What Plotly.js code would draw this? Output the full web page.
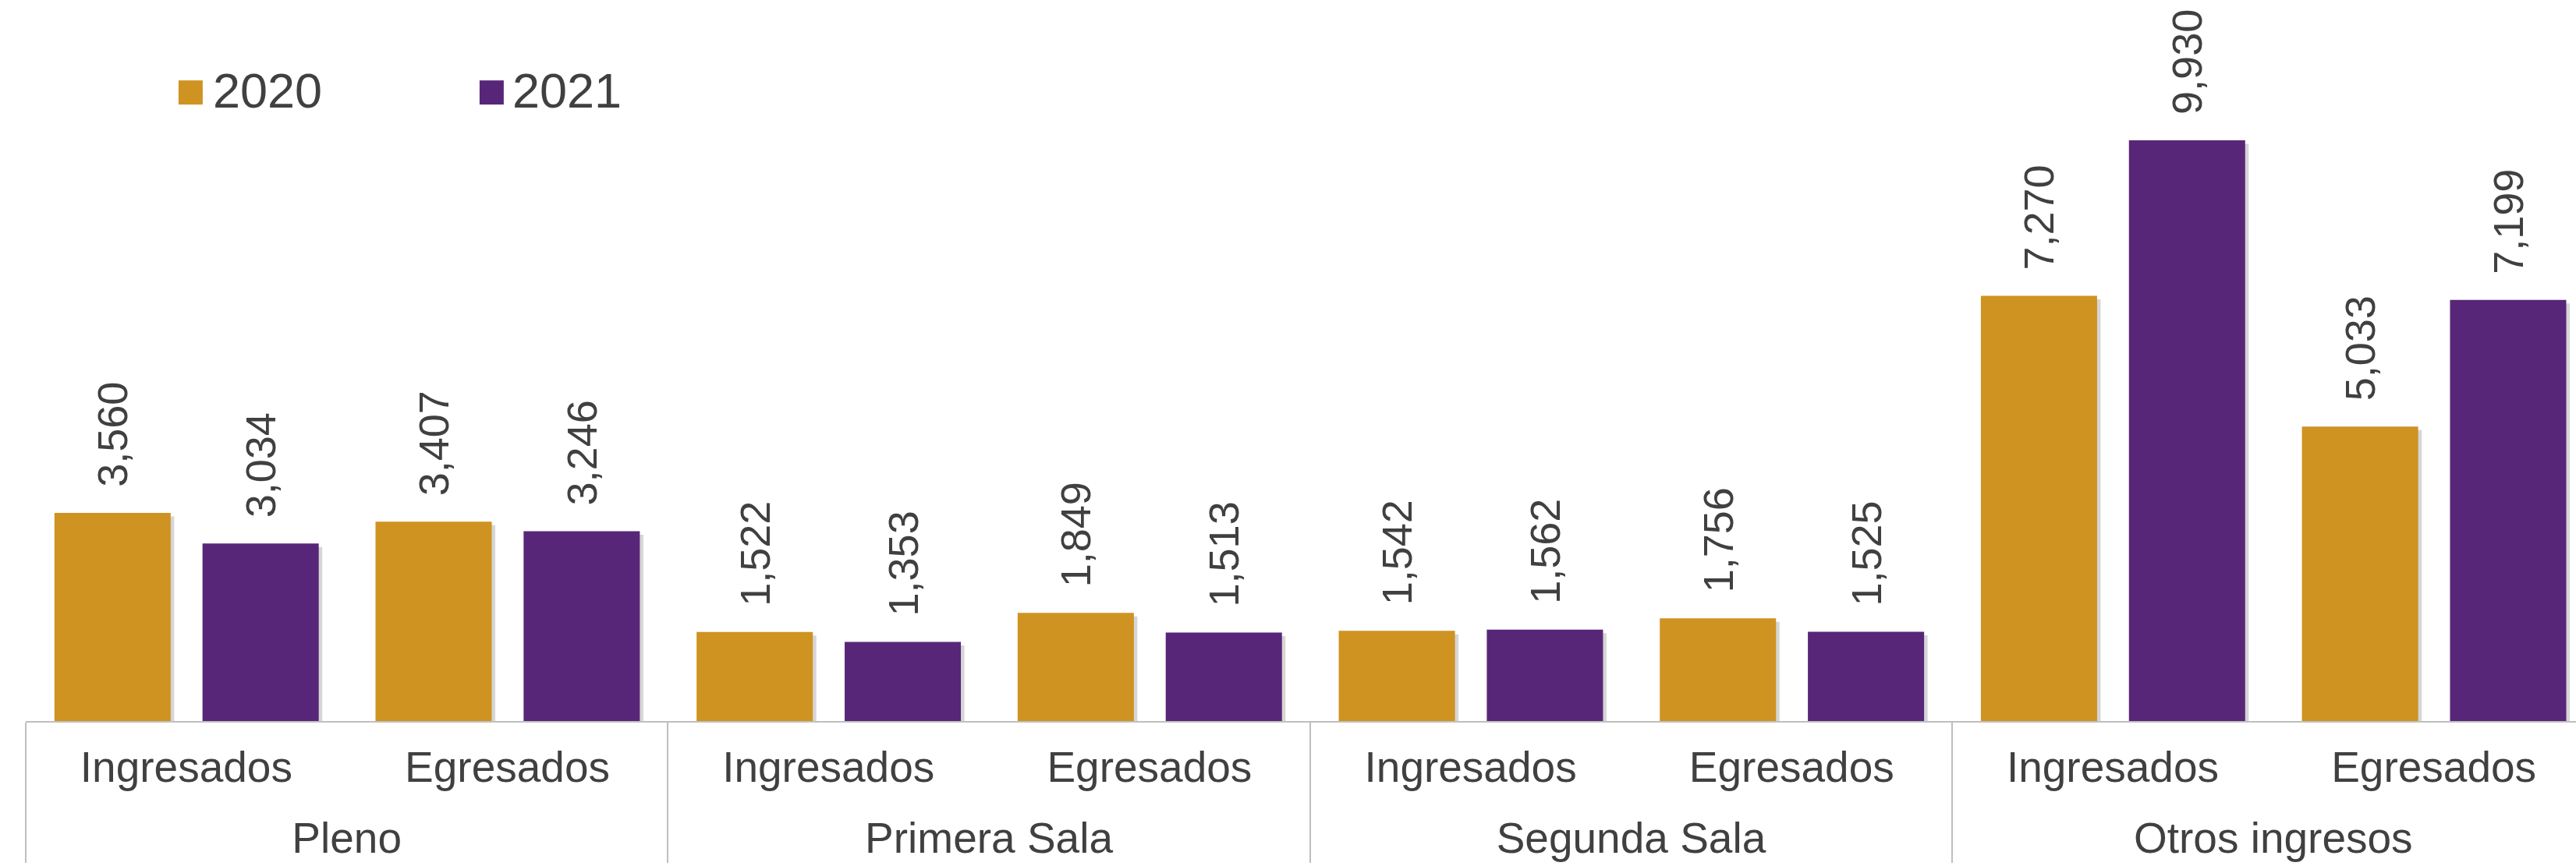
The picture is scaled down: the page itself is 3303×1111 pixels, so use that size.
<!DOCTYPE html>
<html>
<head>
<meta charset="utf-8">
<script src="https://cdn.plot.ly/plotly-3.0.1.min.js"></script>
<style>
  html, body { margin: 0; padding: 0; background: #ffffff; }
  #chart { width: 3303px; height: 1111px; }
</style>
</head>
<body>
<div id="chart"></div>
<script>
// ---- data ----
const groups = ["Pleno", "Pleno", "Primera Sala", "Primera Sala", "Segunda Sala", "Segunda Sala", "Otros ingresos", "Otros ingresos"];
const categories = ["Ingresados", "Egresados", "Ingresados", "Egresados", "Ingresados", "Egresados", "Ingresados", "Egresados"];
const values2020 = [3560, 3407, 1522, 1849, 1542, 1756, 7270, 5033];
const values2021 = [3034, 3246, 1353, 1513, 1562, 1525, 9930, 7199];
const seriesNames = ["2020", "2021"];
const seriesColors = ["#CF9321", "#582678"];

const FONT = "Liberation Sans, Arial, sans-serif";
const TEXT_COLOR = "#404040";

// layout of bars inside each category (in category units)
const BAR_W = 0.362;
const OFFSETS = [-0.4106, 0.0506];
const SHADOW_DX = 0.011;
const SHADOW_BASE = -60;

// first-level labels padded with invisible spaces (increase spacing to the second level)
const PAD = '<span style="font-size:88px">\u00a0</span>';
const catLabels = categories.map(c => PAD + c + PAD);

function shadowTrace(vals, off) {
  return {
    type: "bar",
    x: [groups, catLabels],
    y: vals,
    base: SHADOW_BASE,
    width: BAR_W,
    offset: off + SHADOW_DX,
    marker: { color: "rgba(0,0,0,0.16)", line: { width: 0 } },
    showlegend: false,
    hoverinfo: "skip"
  };
}

function barTrace(name, vals, color, off) {
  return {
    type: "bar",
    name: name,
    x: [groups, catLabels],
    y: vals,
    width: BAR_W,
    offset: off,
    marker: { color: color, line: { width: 0 } },
    texttemplate: "\u00a0\u00a0%{y:,}",
    textposition: "outside",
    textangle: -90,
    constraintext: "none",
    cliponaxis: false,
    textfont: { family: FONT, size: 54, color: TEXT_COLOR },
    showlegend: false,
    hoverinfo: "x+y"
  };
}

const data = [
  shadowTrace(values2020, OFFSETS[0]),
  shadowTrace(values2021, OFFSETS[1]),
  barTrace(seriesNames[0], values2020, seriesColors[0], OFFSETS[0]),
  barTrace(seriesNames[1], values2021, seriesColors[1], OFFSETS[1])
];

// legend (swatch + label)
const swatchX = [0.0582, 0.1762];
const labelX = [0.0728, 0.1902];
const LEG_Y = 0.875;
const annotations = [];
seriesNames.forEach((n, i) => {
  annotations.push({
    xref: "paper", yref: "paper", x: swatchX[i], y: LEG_Y,
    xanchor: "left", yanchor: "middle", showarrow: false,
    text: "■", font: { family: FONT, size: 64, color: seriesColors[i] }
  });
  annotations.push({
    xref: "paper", yref: "paper", x: labelX[i], y: LEG_Y,
    xanchor: "left", yanchor: "middle", showarrow: false,
    text: n, font: { family: FONT, size: 63, color: TEXT_COLOR }
  });
});

const layout = {
  width: 3303,
  height: 1111,
  margin: { l: 33, r: 0, t: 0, b: 186 },
  paper_bgcolor: "#ffffff",
  plot_bgcolor: "#ffffff",
  barmode: "overlay",
  showlegend: false,
  font: { family: FONT, color: TEXT_COLOR },
  xaxis: {
    type: "multicategory",
    range: [-0.5, 7.443],
    showline: true,
    linecolor: "#BFBFBF",
    linewidth: 2,
    showdividers: true,
    dividercolor: "#BFBFBF",
    dividerwidth: 2,
    ticks: "",
    ticklabelstandoff: 10,
    showgrid: false,
    zeroline: false,
    tickfont: { family: FONT, size: 55, color: TEXT_COLOR }
  },
  yaxis: {
    range: [0, 12328],
    visible: false,
    showgrid: false,
    zeroline: false
  },
  annotations: annotations
};

Plotly.newPlot("chart", data, layout, { displayModeBar: false, staticPlot: true });
</script>
</body>
</html>
